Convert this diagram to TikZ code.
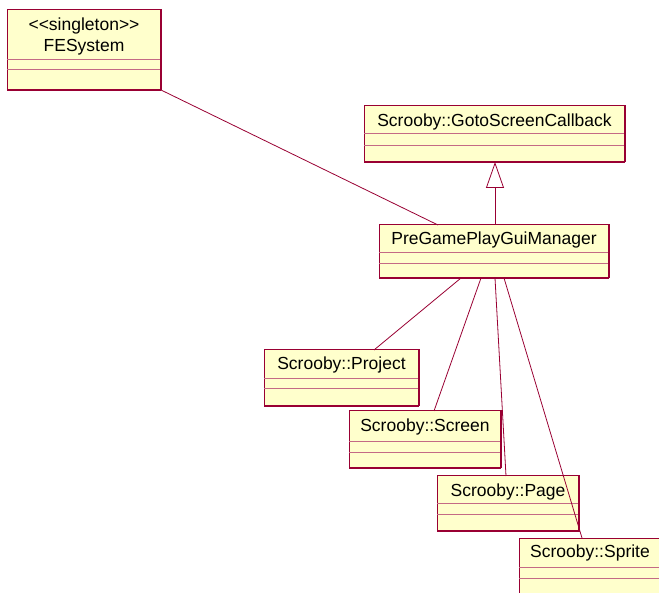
\documentclass[tikz,border=0pt]{standalone}
\usepackage{fontspec}
\setmainfont{Liberation Sans}
\usetikzlibrary{calc,arrows.meta}
\definecolor{umlfill}{HTML}{FFFFCC}
\definecolor{umlline}{HTML}{990033}
\definecolor{umlsep}{HTML}{C46A85}
\tikzset{
  classbox/.style={draw=umlline, fill=umlfill, line width=1pt, inner sep=0pt, outer sep=0pt, rectangle},
  sepline/.style={draw=umlsep, line width=1pt},
  shadowline/.style={draw=umlline, line width=2pt},
  classtext/.style={font=\fontsize{17.5}{21}\selectfont, align=center, inner sep=0pt},
  assoc/.style={draw=umlline, line width=0.8pt},
}
% name, x1, y1, x2, y2, ya, yb, text offset, text
\newcommand\umlclass[9]{%
  \node[classbox, anchor=north west, minimum width={#4pt-#2pt}, minimum height={#5pt-#3pt}] (#1) at (#2,#3) {};
  \draw[sepline] (#2,#6) -- (#4,#6);
  \draw[sepline] (#2,#7) -- (#4,#7);
  \draw[shadowline] (#1.south west) -- (#1.south east);
  \draw[umlline, line width=1.4pt] (#1.south east) -- (#1.north east);
  \node[classtext] at ($(#1.north)+(0,#8)$) {#9};
}
\begin{document}
\begin{tikzpicture}[x=1pt,y=-1pt]
\clip (0,0) rectangle (659,593);
\fill[white] (0,0) rectangle (659,593);
\umlclass{fes}{7}{10}{161}{90}{60}{70}{26}{{<}{<}singleton{>}{>}\\FESystem}
\umlclass{goto}{364}{106}{625}{162}{134}{146}{16}{Scrooby::GotoScreenCallback}
\umlclass{pgm}{379}{225}{609}{278}{253}{264}{15}{PreGamePlayGuiManager}
\umlclass{proj}{264}{350}{419}{406}{379}{389}{15}{Scrooby::Project}
\umlclass{scr}{349}{411}{501}{468}{442}{453}{16}{Scrooby::Screen}
\umlclass{page}{437}{476}{579}{531}{504}{514}{16}{Scrooby::Page}
\umlclass{spr}{519}{538}{661}{620}{567}{578}{15}{Scrooby::Sprite}
% connectors
\draw[assoc] (fes.south east) -- ($(pgm.north west)+(59,0)$);
\draw[assoc, -{Triangle[width=18pt,length=26pt,fill=white]}] ($(pgm.north west)+(116,0)$) -- ($(goto.south west)+(131,0)$);
\draw[assoc] ($(pgm.south west)+(82,0)$) -- ($(proj.north west)+(110,0)$);
\draw[assoc] ($(pgm.south west)+(102,0)$) -- ($(scr.north west)+(85,0)$);
\draw[assoc] ($(pgm.south west)+(116,0)$) -- ($(page.north west)+(69,0)$);
\draw[assoc] ($(pgm.south west)+(125,0)$) -- ($(spr.north west)+(63,0)$);
\end{tikzpicture}
\end{document}
